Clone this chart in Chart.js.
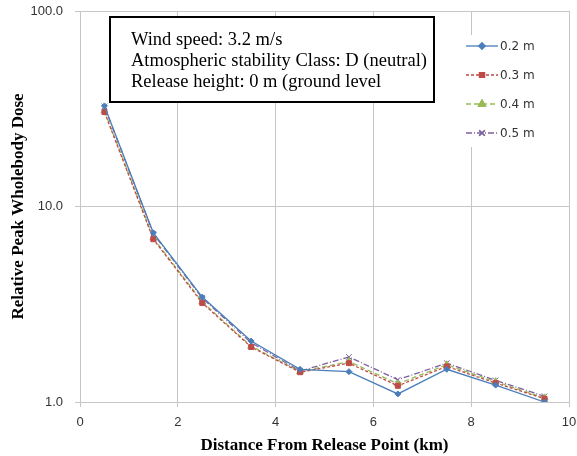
<!DOCTYPE html>
<html>
<head>
<meta charset="utf-8">
<script src="https://cdn.jsdelivr.net/npm/chart.js@4"></script>
<style>
  html, body { margin: 0; padding: 0; background: #fff; }
  #wrap { width: 577px; height: 456px; }
</style>
</head>
<body>
<div id="wrap"><canvas id="grafico" width="577" height="456"></canvas></div>
<script>
const distancias = [0.5, 1.5, 2.5, 3.5, 4.5, 5.5, 6.5, 7.5, 8.5, 9.5];
const dosis02 = [32.7, 7.33, 3.44, 2.05, 1.47, 1.43, 1.10, 1.47, 1.22, 1.00];
const dosis03 = [30.4, 6.80, 3.21, 1.91, 1.42, 1.58, 1.21, 1.52, 1.25, 1.04];
const dosis04 = [30.8, 6.90, 3.25, 1.93, 1.43, 1.61, 1.24, 1.55, 1.27, 1.05];
const dosis05 = [32.5, 7.25, 3.40, 2.01, 1.44, 1.70, 1.30, 1.58, 1.29, 1.07];
const ticksY = [1, 10, 100];
const notas = [
    "Wind speed: 3.2 m/s",
    "Atmospheric stability Class: D (neutral)",
    "Release height: 0 m (ground level"
];

const serie = (label, valores, color, dash, punto, radio) => ({
    label: label,
    data: distancias.map((x, i) => ({ x: x, y: valores[i] })),
    borderColor: color,
    backgroundColor: color,
    borderWidth: 1.3,
    borderDash: dash,
    pointStyle: punto,
    pointRadius: radio,
    pointBorderColor: color,
    pointBackgroundColor: color,
    pointBorderWidth: 1,
    tension: 0
});

const datasets = [
    serie("0.2 m", dosis02, "#4a7ebb", [], "rectRot", 3),
    serie("0.3 m", dosis03, "#be4b48", [3, 2], "rect", 3.5),
    serie("0.4 m", dosis04, "#98b954", [5, 3], "triangle", 4),
    serie("0.5 m", dosis05, "#7d60a0", [6, 2, 1, 2], "crossRot", 4)
];

// caja de notas y leyenda dibujadas encima del area del grafico
const extras = {
    id: "extras",
    afterDatasetsDraw(chart) {
        const ctx = chart.ctx;
        ctx.save();
        // caja de notas
        ctx.fillStyle = "#fff";
        ctx.fillRect(110, 17, 324, 85);
        ctx.strokeStyle = "#000";
        ctx.lineWidth = 2;
        ctx.strokeRect(110, 17, 324, 85);
        ctx.fillStyle = "#000";
        ctx.font = "18.5px 'Liberation Serif', 'Times New Roman', serif";
        ctx.textBaseline = "middle";
        notas.forEach((t, i) => ctx.fillText(t, 131, 40 + i * 21.3));
        // leyenda
        ctx.fillStyle = "#fff";
        ctx.fillRect(462, 35, 104, 112);
        ctx.font = "12px 'DejaVu Sans', sans-serif";
        chart.data.datasets.forEach((ds, i) => {
            const y = 46 + i * 29;
            ctx.strokeStyle = ds.borderColor;
            ctx.lineWidth = 1.3;
            ctx.setLineDash(ds.borderDash);
            ctx.beginPath();
            ctx.moveTo(466, y);
            ctx.lineTo(498, y);
            ctx.stroke();
            ctx.setLineDash([]);
            Chart.helpers.drawPoint(ctx, {
                pointStyle: ds.pointStyle,
                radius: ds.pointRadius,
                rotation: 0,
                borderWidth: 1
            }, 482, y);
            ctx.fillStyle = ds.borderColor;
            ctx.fill();
            ctx.strokeStyle = ds.borderColor;
            ctx.stroke();
            ctx.fillStyle = "#333";
            ctx.fillText(ds.label, 500, y + 1);
        });
        ctx.restore();
    }
};

const grafico = document.getElementById("grafico").getContext("2d");
const myChart = new Chart(grafico, {
    type: "line",
    data: { datasets: datasets },
    plugins: [extras],
    options: {
        responsive: false,
        animation: false,
        layout: { padding: { top: 11, right: 8, left: 0, bottom: 0 } },
        plugins: {
            legend: { display: false },
            tooltip: { enabled: false }
        },
        scales: {
            x: {
                type: "linear",
                min: 0,
                max: 10,
                ticks: {
                    stepSize: 2,
                    color: "#333",
                    font: { size: 13, family: "'Liberation Sans', sans-serif" },
                    padding: 8
                },
                grid: { color: "#c6c6c6", tickLength: 5 },
                border: { color: "#c6c6c6" },
                title: {
                    display: true,
                    text: "Distance From Release Point (km)",
                    color: "#000",
                    font: { size: 17, weight: "bold", family: "'Liberation Serif', serif" },
                    padding: { top: 0, bottom: 0 }
                },
                afterFit(scale) {
                    scale.height = 54;
                    scale.paddingLeft = 0;
                    scale.paddingRight = 0;
                }
            },
            y: {
                type: "logarithmic",
                min: 1,
                max: 100,
                afterBuildTicks(scale) {
                    scale.ticks = ticksY.map(v => ({ value: v }));
                },
                ticks: {
                    color: "#333",
                    font: { size: 13, family: "'Liberation Sans', sans-serif" },
                    padding: 12,
                    callback: v => v.toFixed(1)
                },
                grid: { color: "#c6c6c6", tickLength: 5 },
                border: { color: "#c6c6c6" },
                title: {
                    display: true,
                    text: "Relative Peak Wholebody Dose",
                    color: "#000",
                    font: { size: 17, weight: "bold", family: "'Liberation Serif', serif" },
                    padding: { top: 8, bottom: 0 }
                },
                afterFit(scale) {
                    scale.width = 80;
                    scale.paddingTop = 0;
                    scale.paddingBottom = 0;
                }
            }
        }
    }
});
</script>
</body>
</html>
